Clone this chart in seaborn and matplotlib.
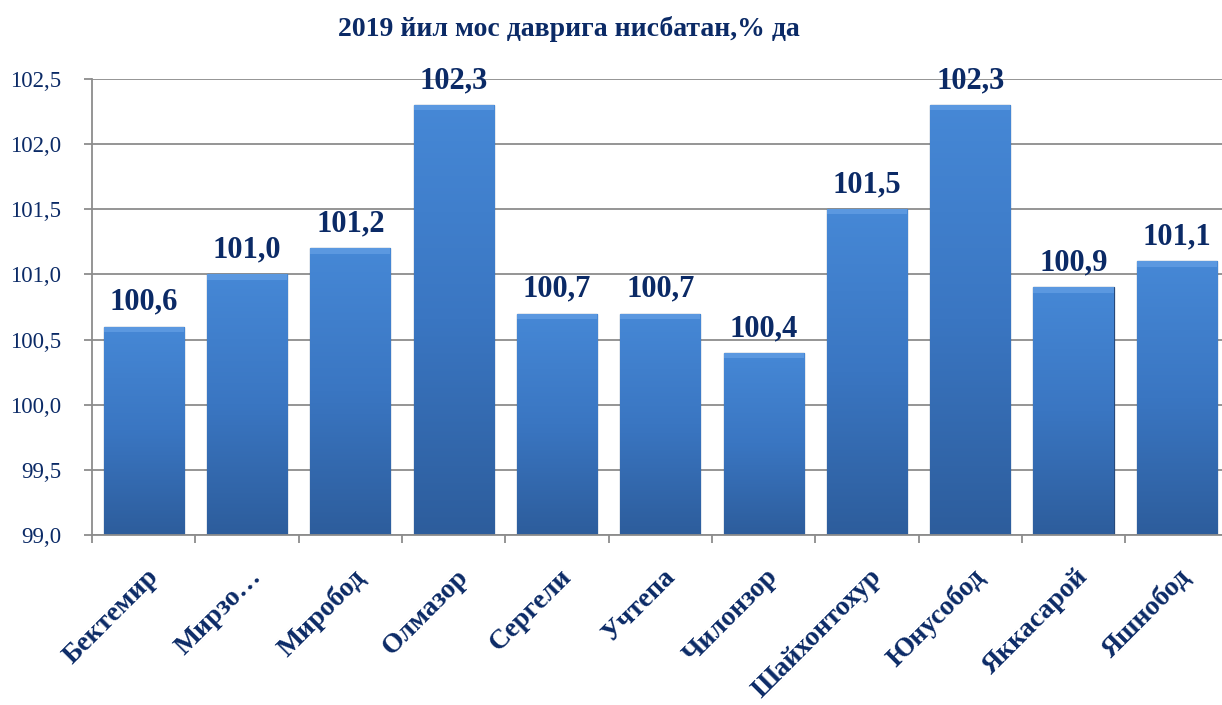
import numpy as np
import matplotlib
matplotlib.use('Agg')
import matplotlib.pyplot as plt
import matplotlib.transforms as mtransforms
from matplotlib.colors import LinearSegmentedColormap
import seaborn as sns

# Datos del gráfico
tumanlar = ['Бектемир', 'Мирзо…', 'Миробод', 'Олмазор', 'Сергели', 'Учтепа',
            'Чилонзор', 'Шайхонтохур', 'Юнусобод', 'Яккасарой', 'Яшнобод']
qiymatlar = [100.6, 101.0, 101.2, 102.3, 100.7, 100.7, 100.4, 101.5, 102.3, 100.9, 101.1]
y_ticks = [99.0, 99.5, 100.0, 100.5, 101.0, 101.5, 102.0, 102.5]
sarlavha = '2019 йил мос даврига нисбатан,% да'

navy = '#0b2a66'
gray = '#8c8c8c'

sns.set_style('whitegrid')
plt.rcParams['font.family'] = ['Liberation Serif', 'DejaVu Serif']

fig = plt.figure(figsize=(12.22, 7.05), dpi=100)
ax = fig.add_axes([0.0753, 0.241, 0.93, 0.647])

sns.barplot(x=tumanlar, y=qiymatlar, color='#3b78c5', width=0.775,
            edgecolor='#27497a', linewidth=0.9, ax=ax)

ylo, yhi = y_ticks[0], y_ticks[-1]

# Degradado vertical en cada barra
cmap = LinearSegmentedColormap.from_list('g', ['#2d5d9c', '#3a76c2', '#4688d6'])
grad = np.linspace(0, 1, 256).reshape(-1, 1)
for p in list(ax.patches):
    x0, w, h = p.get_x(), p.get_width(), p.get_height()
    im = ax.imshow(grad, extent=(x0, x0 + w, ylo, h), origin='lower', aspect='auto',
                   cmap=cmap, zorder=p.get_zorder() + 0.1)
    im.set_clip_path(p)
    # bisel superior más claro
    ax.fill_between([x0, x0 + w], h - 0.04, h, color='#6aa5e8', alpha=0.6,
                    zorder=p.get_zorder() + 0.2, linewidth=0)

ax.set_xlim(-0.5, len(tumanlar) - 0.5)
ax.set_ylim(ylo, yhi)
ax.set_yticks(y_ticks)
ax.set_yticklabels([f'{v:.1f}'.replace('.', ',') for v in y_ticks],
                   fontsize=16.5, color=navy)

ax.grid(axis='y', color=gray, linewidth=1.3)
ax.grid(axis='x', visible=False)
ax.set_axisbelow(True)

for s in ['top', 'right']:
    ax.spines[s].set_visible(False)
for s in ['left', 'bottom']:
    ax.spines[s].set_visible(True)
    ax.spines[s].set_color(gray)
    ax.spines[s].set_linewidth(1.3)

ax.set_xticks(np.arange(-0.5, len(tumanlar), 1), minor=True)
ax.tick_params(axis='x', which='minor', length=6, width=1.3, color=gray, bottom=True)
ax.tick_params(axis='x', which='major', length=0, pad=21)
ax.tick_params(axis='y', length=6, width=1.3, color=gray, left=True, pad=16)

ax.set_xticks(range(len(tumanlar)))
ax.set_xticklabels(tumanlar, rotation=45, ha='right', rotation_mode='anchor',
                   fontsize=20, fontweight='bold', color=navy)
offset = mtransforms.ScaledTranslation(2 / 100, 0, fig.dpi_scale_trans)
for lbl in ax.get_xticklabels():
    lbl.set_transform(lbl.get_transform() + offset)

ax.bar_label(ax.containers[0],
             labels=[f'{v:.1f}'.replace('.', ',') for v in qiymatlar],
             padding=7, fontsize=22, fontweight='bold', color=navy)

ax.set_xlabel('')
ax.set_ylabel('')

fig.text(569 / 1222, 1 - 29 / 705, sarlavha, ha='center', va='center',
         fontsize=20, fontweight='bold', color=navy)

fig.savefig('out.png', dpi=100)
